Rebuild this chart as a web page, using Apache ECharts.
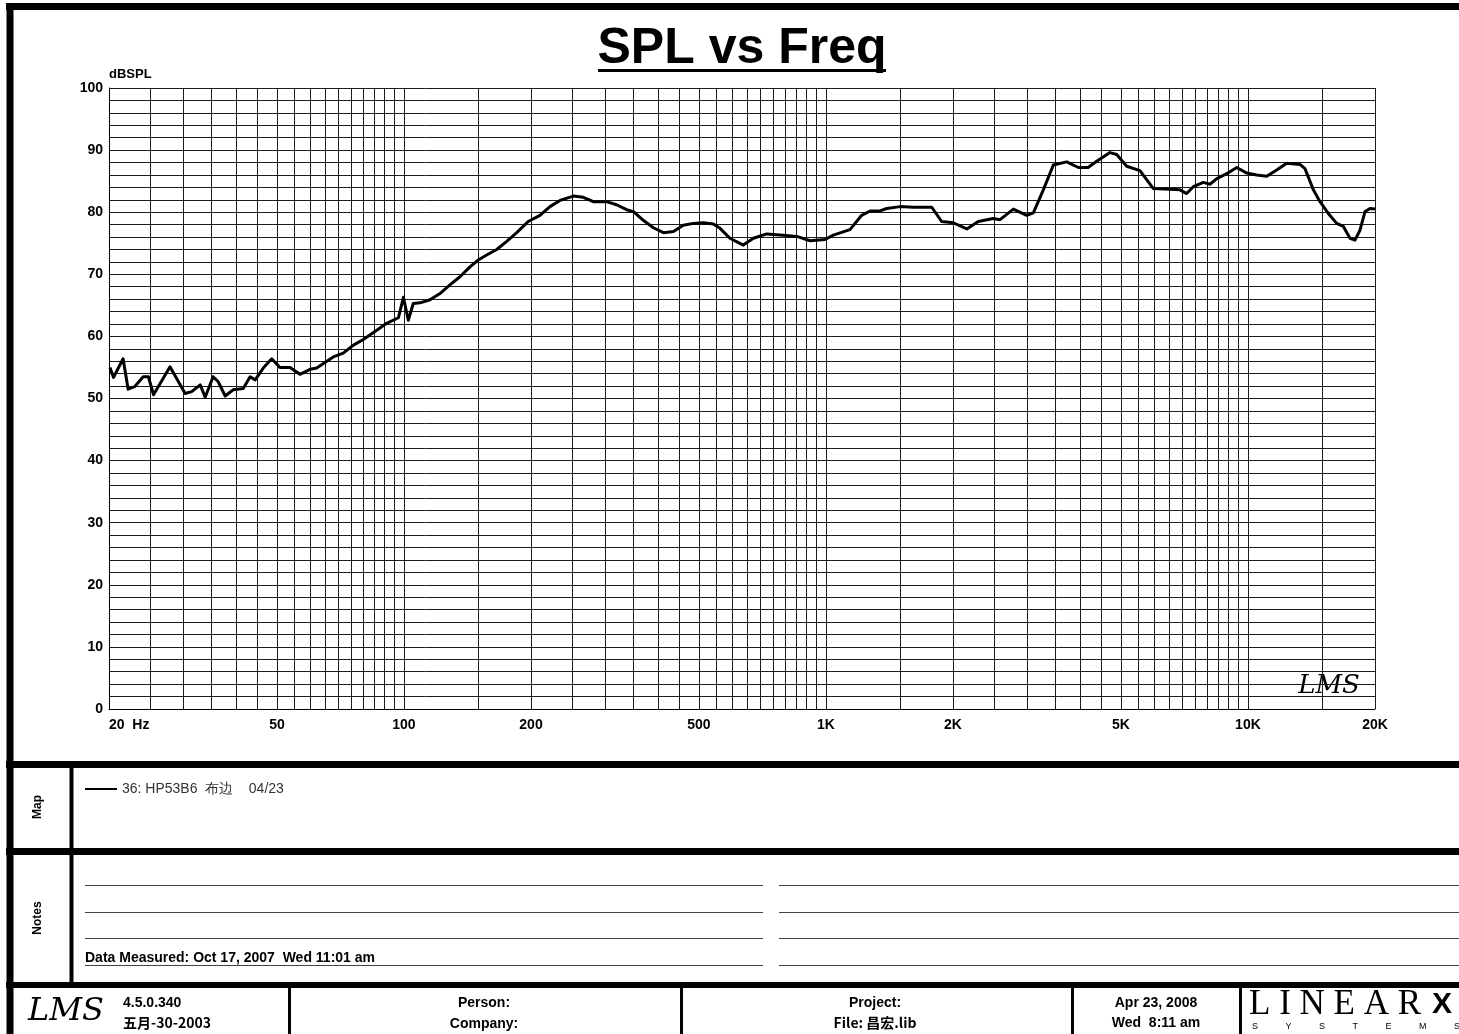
<!DOCTYPE html>
<html>
<head>
<meta charset="utf-8">
<script src="https://cdn.jsdelivr.net/npm/echarts@6/dist/echarts.min.js"></script>
<style>
html,body{margin:0;padding:0;background:#fff;}
#c{width:1459px;height:1034px;}
</style>
</head>
<body>
<div id="c"></div>
<script>
// ---- data ----
const freqHz = [20.1,20.5,21.6,22.2,23.0,24.1,24.8,25.5,27.9,30.3,31.4,32.9,33.8,35.3,36.3,37.7,39.4,41.6,43.2,44.4,46.4,48.6,50.8,53.7,56.7,59.9,62.1,68.0,71.8,75.9,80.1,86.2,91.0,97.0,99.7,102.4,105.2,109.2,115.3,121.7,128.5,135.7,143.4,150,157,165.9,175.2,185,197,210,221.8,234.3,252,266,281,302,319,337,350,369,390,412,435,459,485,512,541,561,592,637,673,724,792,853,917,995,1041,1140,1215,1272,1343,1393,1498,1611,1781,1880,2003,2156,2296,2492,2585,2780,2990,3100,3274,3458,3720,3963,4180,4380,4710,4887,5160,5546,5968,6537,6902,7158,7422,7838,8128,8434,8906,9406,9933,10490,11078,11696,12352,13284,13652,14288,14816,15500,16228,16828,17452,17932,18426,18938,19462,20000];
const splDb = [55.0,53.4,56.4,51.5,51.9,53.5,53.5,50.6,55.1,50.8,51.1,52.2,50.2,53.5,52.7,50.4,51.4,51.6,53.5,53.0,54.9,56.4,55.0,55.0,53.9,54.7,54.9,56.7,57.3,58.6,59.5,61.0,62.1,63.0,66.3,62.6,65.3,65.4,65.9,66.9,68.3,69.6,71.2,72.3,73.1,74.0,75.3,76.7,78.5,79.5,80.9,81.9,82.6,82.4,81.7,81.7,81.2,80.4,80.1,78.7,77.5,76.7,76.9,77.9,78.2,78.3,78.1,77.4,75.8,74.7,75.8,76.5,76.3,76.1,75.4,75.6,76.3,77.2,79.5,80.2,80.2,80.6,80.9,80.8,80.8,78.5,78.3,77.3,78.5,79.0,78.8,80.5,79.5,79.9,83.6,87.6,88.1,87.2,87.2,88.2,89.6,89.3,87.4,86.7,83.8,83.7,83.6,83.0,84.1,84.8,84.5,85.4,86.2,87.2,86.3,86.0,85.8,86.8,87.9,87.7,87.0,83.6,81.7,79.8,78.2,77.7,75.8,75.5,77.1,80.1,80.6,80.5];
const seriesName = '36: HP53B6  布边    04/23';
const xLabelFreqs = [20,50,100,200,500,1000,2000,5000,10000,20000];
const xLabelTexts = ['20  Hz','50','100','200','500','1K','2K','5K','10K','20K'];
const gridMantissas = [1,1.5,2,2.5,3,3.5,4,4.5,5,5.5,6,6.5,7,7.5,8,8.5,9,9.5];
const gridDecades = [10,100,1000,10000];
const yMin = 0, yMax = 100, yStep = 2, yLabelStep = 10;

// ---- derived ----
const gridFreqs = [];
gridDecades.forEach(d => gridMantissas.forEach(m => {
  const f = Math.round(m * d);
  if (f >= 20 && f <= 20000) gridFreqs.push(f);
}));
gridFreqs.push(20000);
const seriesData = freqHz.map((f, i) => [f, splDb[i]]);

const chart = echarts.init(document.getElementById('c'), null, {renderer: 'canvas'});
const F = '"Liberation Sans", Arial, sans-serif';
const lineEl = (x1, y1, x2, y2, w, c) => ({type: 'line', silent: true, shape: {x1, y1, x2, y2}, style: {stroke: c || '#000', lineWidth: w}});
const textEl = (x, y, text, font, align, extra) => Object.assign({
  type: 'text', x, y, silent: true,
  style: {text, font, fill: '#000', textAlign: align || 'left', textVerticalAlign: 'middle', align: align || 'left', verticalAlign: 'middle'}
}, extra || {});

const option = {
  backgroundColor: '#fff',
  animation: false,
  title: {
    text: 'SPL vs Freq', left: 737, top: 19, textAlign: 'center',
    textStyle: {fontFamily: F, fontWeight: 'bold', fontSize: 50, color: '#000'}
  },
  legend: {
    left: 80, top: 777, itemWidth: 32, itemHeight: 2, itemGap: 6, icon: 'rect',
    data: [seriesName],
    textStyle: {fontFamily: F, fontSize: 14, color: '#333'}
  },
  grid: {left: 109, top: 88, width: 1266, height: 621},
  xAxis: {
    type: 'log', logBase: 10, min: 20, max: 20000,
    axisLine: {show: true, lineStyle: {color: '#000', width: 1}},
    axisTick: {show: false, customValues: gridFreqs},
    splitLine: {show: true, lineStyle: {color: '#1a1a1a', width: 1}},
    minorSplitLine: {show: false},
    axisLabel: {
      customValues: xLabelFreqs, margin: 9, alignMinLabel: 'left',
      fontFamily: F, fontWeight: 'bold', fontSize: 14, color: '#000',
      formatter: v => { const i = xLabelFreqs.findIndex(f => Math.abs(f - v) / f < 1e-6); return i >= 0 ? xLabelTexts[i] : ''; }
    }
  },
  yAxis: {
    type: 'value', min: yMin, max: yMax, interval: yStep,
    name: 'dBSPL', nameLocation: 'end', nameGap: 7,
    nameTextStyle: {fontFamily: F, fontWeight: 'bold', fontSize: 13, color: '#000', align: 'left'},
    axisLine: {show: true, lineStyle: {color: '#000', width: 1}},
    axisTick: {show: false},
    splitLine: {show: true, lineStyle: {color: '#1a1a1a', width: 1}},
    axisLabel: {
      margin: 6, fontFamily: F, fontWeight: 'bold', fontSize: 14, color: '#000',
      formatter: v => (v % yLabelStep === 0 ? String(v) : '')
    }
  },
  series: [{
    name: seriesName, type: 'line', data: seriesData, showSymbol: false, symbol: 'none',
    lineStyle: {color: '#000', width: 3, join: 'round'}, itemStyle: {color: '#000'},
    z: 10, clip: true
  }],
  graphic: {elements: [
    // title underline
    lineEl(598, 70.5, 886, 70.5, 3),
    // outer frame
    lineEl(6, 6.5, 1459, 6.5, 7),
    lineEl(10, 3, 10, 1034, 7),
    lineEl(6, 764.5, 1459, 764.5, 7),
    lineEl(6, 851.5, 1459, 851.5, 7),
    lineEl(6, 985, 1459, 985, 6),
    lineEl(71.5, 764, 71.5, 985, 4),
    // footer dividers
    lineEl(289.5, 985, 289.5, 1034, 3),
    lineEl(681.5, 985, 681.5, 1034, 3),
    lineEl(1072.5, 985, 1072.5, 1034, 3),
    lineEl(1240.5, 985, 1240.5, 1034, 3),
    // notes lines
    lineEl(85, 885.5, 763, 885.5, 1, '#444'), lineEl(779, 885.5, 1459, 885.5, 1, '#444'),
    lineEl(85, 912.5, 763, 912.5, 1, '#444'), lineEl(779, 912.5, 1459, 912.5, 1, '#444'),
    lineEl(85, 938.5, 763, 938.5, 1, '#444'), lineEl(779, 938.5, 1459, 938.5, 1, '#444'),
    lineEl(85, 965.5, 763, 965.5, 1, '#444'), lineEl(779, 965.5, 1459, 965.5, 1, '#444'),
    textEl(85, 958, 'Data Measured: Oct 17, 2007  Wed 11:01 am', 'bold 14px ' + F),
    // side labels
    textEl(38, 807, 'Map', 'bold 12px ' + F, 'center', {rotation: Math.PI / 2}),
    textEl(38, 918, 'Notes', 'bold 12px ' + F, 'center', {rotation: Math.PI / 2}),
    // plot logo
    textEl(1329, 686, 'LMS', 'italic 26px "DejaVu Serif", serif', 'center'),
    // footer
    textEl(66, 1012, 'LMS', 'italic 32px "DejaVu Serif", serif', 'center'),
    textEl(123, 1003, '4.5.0.340', 'bold 14px ' + F),
    textEl(123, 1023, '五月-30-2003', 'bold 14px "Noto Sans CJK SC", ' + F),
    textEl(484, 1003, 'Person:', 'bold 14px ' + F, 'center'),
    textEl(484, 1024, 'Company:', 'bold 14px ' + F, 'center'),
    textEl(875, 1003, 'Project:', 'bold 14px ' + F, 'center'),
    textEl(875, 1023, 'File: 昌宏.lib', 'bold 14px "Noto Sans CJK SC", ' + F, 'center'),
    textEl(1156, 1003, 'Apr 23, 2008', 'bold 14px ' + F, 'center'),
    textEl(1156, 1023, 'Wed  8:11 am', 'bold 14px ' + F, 'center'),
    textEl(1249, 1005, 'L I N E A R', '35px "Liberation Serif", serif'),
    textEl(1432, 1005, 'X', 'bold 30px ' + F),
    textEl(1252, 1027, 'S           Y           S           T           E           M           S', '9px ' + F)
  ]}
};
chart.setOption(option);
</script>
</body>
</html>
